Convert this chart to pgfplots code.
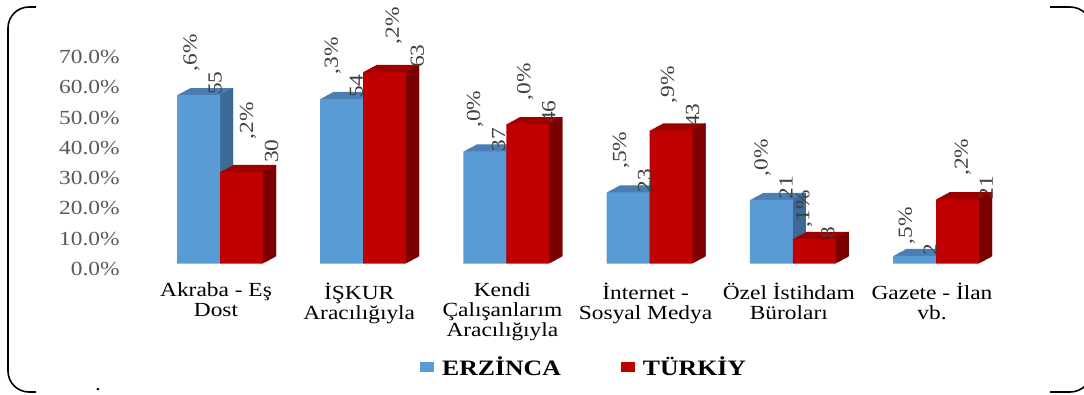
\documentclass[border=0pt]{standalone}
\usepackage{fontspec}
\setmainfont{Liberation Serif}[FakeStretch=1.17]
\usepackage{pgfplots}
\usepackage{pgfplotstable}
\pgfplotsset{compat=1.18}
\definecolor{bfront}{HTML}{5B9BD5}
\definecolor{btop}{HTML}{4B7FB3}
\definecolor{bside}{HTML}{3D6A94}
\definecolor{rfront}{HTML}{C00000}
\definecolor{rtop}{HTML}{9E0000}
\definecolor{rside}{HTML}{7A0000}
\definecolor{ticktext}{HTML}{595959}
\definecolor{labtext}{HTML}{404040}

% lx, ly: label offsets (pt) from the bar top
\pgfplotstableread{
x y lab lx ly
0 55.6 {\hphantom{55},6\%\\55} 23.5 0
1 54.3 {\hphantom{54},3\%\\54} 21.5 1
2 37.0 {\hphantom{37},0\%\\37} 20.5 0
3 23.5 {\hphantom{23},5\%\\23} 23.5 0
4 21.0 {\hphantom{21},0\%\\21} 21.5 0
5 2.5 {\hphantom{2},5\%\\2} 22.5 0
}\erz

\pgfplotstableread{
x y lab lx ly
0 30.2 {\hphantom{30},2\%\\30} 37 9
1 63.2 {\hphantom{63},2\%\\63} 39.5 4
2 46.0 {\hphantom{46},0\%\\46} 28 0
3 43.9 {\hphantom{43},9\%\\43} 28.5 3.5
4 8.1 {\hphantom{8},1\%\\8} 20.5 0
5 21.2 {\hphantom{21},2\%\\21} 35.5 0
}\tur

\begin{document}
\begin{tikzpicture}[x=1pt,y=1pt]
\useasboundingbox (0,0) rectangle (1084,394);
\begin{scope}
\clip (0,0) rectangle (1084,394);
\draw[line width=1.6pt, rounded corners=21pt] (36,387) -- (8,387) -- (8,2) -- (36,2);
\draw[line width=1.6pt, rounded corners=22pt] (1050,387) -- (1092,387) -- (1092,2) -- (1050,2);
\end{scope}
\node[inner sep=0.5pt, anchor=base, font=\fontsize{20}{20}\selectfont] at (98,3.5) {.};
\begin{axis}[
  at={(119.76pt,130.5pt)}, anchor=south west, scale only axis,
  width=916.48pt, height=242.4pt,
  xmin=-0.7, xmax=5.7, ymin=0, ymax=80, clip=false,
  axis line style={draw=none}, major tick length=0pt,
  xtick={0,...,5},
  xticklabels={{Akraba - Eş\\Dost},{İŞKUR\\Aracılığıyla},{Kendi\\Çalışanlarım\\Aracılığıyla},{İnternet -\\Sosyal Medya},{Özel İstihdam\\Büroları},{Gazete - İlan\\vb.}},
  xticklabel style={font=\fontsize{20}{20}\selectfont, align=center, anchor=north, inner sep=0pt, yshift=-19pt, xshift=-4pt, text=black},
  ytick={0,10,...,70},
  yticklabel={\pgfmathprintnumber[fixed,fixed zerofill,precision=1]{\tick}\%},
  yticklabel style={font=\fontsize{20}{20}\selectfont, text=ticktext, anchor=east, inner sep=0pt, yshift=-5.5pt},
  /pgf/number format/assume math mode=true,
  legend style={at={(0.3276,-0.427)}, anchor=west, draw=none, fill=none, legend columns=2,
    font=\bfseries\fontsize{22}{22}\selectfont,
    /tikz/every odd column/.append style={column sep=8pt},
    /tikz/every even column/.append style={column sep=60pt},
    inner sep=0pt, nodes={inner sep=0pt}},
  legend image code/.code={\fill[#1] (0pt,-5pt) rectangle (14pt,5pt);},
]
% blue 3D body
\pgfplotsinvokeforeach{1,...,13}{
  \addplot[ybar, bar width=43pt, bar shift=-21.5pt, fill=btop, draw=none, forget plot, xshift=#1pt, yshift=#1*0.54pt] table[x=x,y=y]{\erz};
}
\pgfplotsinvokeforeach{1,...,13}{
  \addplot[ybar, bar width=1.2pt, bar shift=-0.6pt, fill=bside, draw=none, forget plot, xshift=#1pt, yshift=#1*0.54pt] table[x=x,y=y]{\erz};
}
% red 3D body
\pgfplotsinvokeforeach{1,...,13}{
  \addplot[ybar, bar width=43pt, bar shift=21.5pt, fill=rtop, draw=none, forget plot, xshift=#1pt, yshift=#1*0.54pt] table[x=x,y=y]{\tur};
}
\pgfplotsinvokeforeach{1,...,13}{
  \addplot[ybar, bar width=1.2pt, bar shift=42.4pt, fill=rside, draw=none, forget plot, xshift=#1pt, yshift=#1*0.54pt] table[x=x,y=y]{\tur};
}
% fronts
\addplot[ybar, bar width=43pt, bar shift=-21.5pt, fill=bfront, draw=none] table[x=x,y=y]{\erz};
\addlegendentry{ERZİNCA}
\addplot[ybar, bar width=43pt, bar shift=21.5pt, fill=rfront, draw=none] table[x=x,y=y]{\tur};
\addlegendentry{TÜRKİY}
% data labels
\addplot[draw=none, mark=none, forget plot, point meta=explicit symbolic,
  visualization depends on={\thisrow{lx}\as\lxs},
  visualization depends on={\thisrow{ly}\as\lys},
  nodes near coords,
  nodes near coords style={xshift=\lxs, yshift=\lys, rotate=90, anchor=south west, inner sep=0pt, align=left, font=\fontsize{20}{25}\selectfont, text=labtext},
] table[x expr=\thisrow{x}-0.15, y=y, meta=lab]{\erz};
\addplot[draw=none, mark=none, forget plot, point meta=explicit symbolic,
  visualization depends on={\thisrow{lx}\as\lxs},
  visualization depends on={\thisrow{ly}\as\lys},
  nodes near coords,
  nodes near coords style={xshift=\lxs, yshift=\lys, rotate=90, anchor=south west, inner sep=0pt, align=left, font=\fontsize{20}{25}\selectfont, text=labtext},
] table[x expr=\thisrow{x}+0.15, y=y, meta=lab]{\tur};
\end{axis}
\end{tikzpicture}
\end{document}
